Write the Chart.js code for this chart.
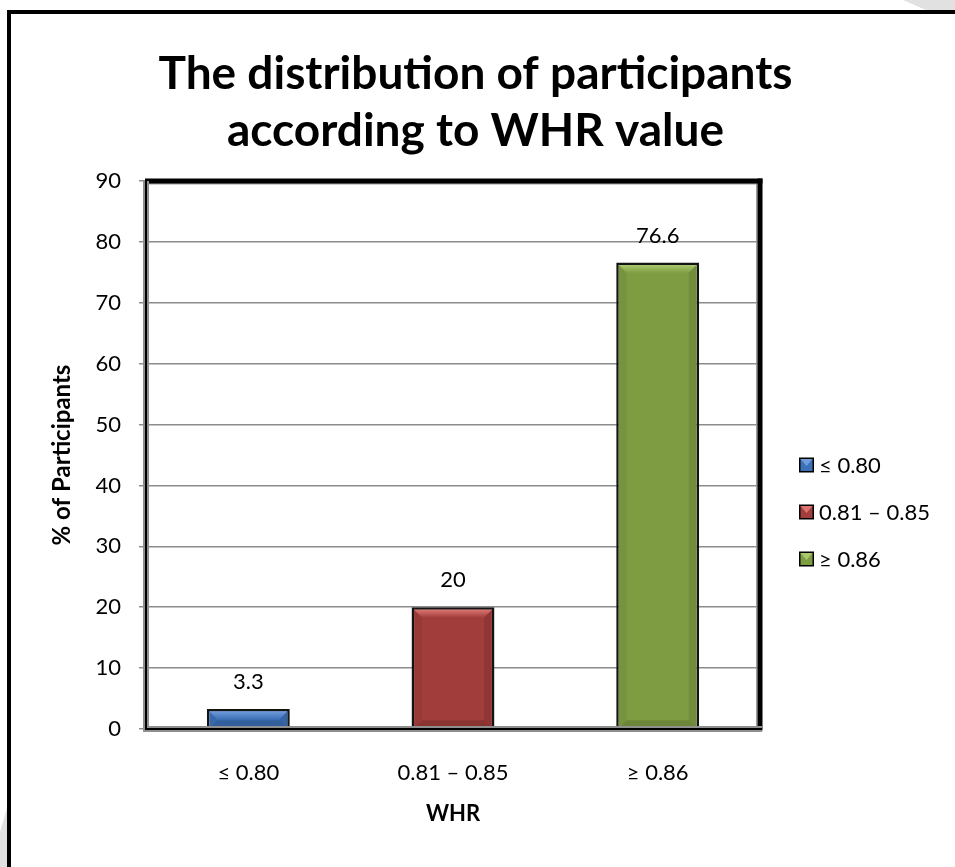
<!DOCTYPE html>
<html>
<head>
<meta charset="utf-8">
<script src="https://cdn.jsdelivr.net/npm/chart.js@4"></script>
<style>
  html, body { margin: 0; padding: 0; background: #ffffff; }
  #wrap { width: 955px; height: 867px; }
</style>
</head>
<body>
<div id="wrap"><canvas id="c" width="955" height="867"></canvas></div>
<script>
// WHR groups and share of participants (%)
const categories = ['≤ 0.80', '0.81 – 0.85', '≥ 0.86'];
const percentages = [3.3, 20, 76.6];
const yTickValues = [0, 10, 20, 30, 40, 50, 60, 70, 80, 90];
const titleLines = ['The distribution of participants', 'according to WHR value'];
const yAxisTitle = '% of Participants';
const xAxisTitle = 'WHR';

// Fill colours per group, with a lighter tone for the bevel
const barColors = ['#3C70B7', '#A13D3B', '#7E9D43'];
const barLight = ['#6E9CDC', '#DA7572', '#A9C86E'];

const FONT = 'Lato, "Open Sans", sans-serif';

function poly(ctx, pts, fill) {
  ctx.beginPath();
  ctx.moveTo(pts[0], pts[1]);
  for (let i = 2; i < pts.length; i += 2) ctx.lineTo(pts[i], pts[i + 1]);
  ctx.closePath();
  ctx.fillStyle = fill;
  ctx.fill();
}

// Page frame, corner shading and the two-line heading, centred on the page
const pageFrame = {
  id: 'pageFrame',
  beforeDraw(chart) {
    const ctx = chart.ctx;
    const W = chart.width, H = chart.height;
    ctx.save();
    ctx.fillStyle = '#ffffff';
    ctx.fillRect(0, 0, W, H);
    poly(ctx, [903, 0, W, 0, W, 10, 926, 10], '#e1e1e1');
    poly(ctx, [7, 808, 7, H, 0, H, 0, 832], '#e1e1e1');
    ctx.fillStyle = '#000000';
    ctx.fillRect(7, 10, 4, H - 10);
    ctx.fillRect(7, 10, W - 7, 4);
    ctx.font = 'bold 46px ' + FONT;
    ctx.textAlign = 'center';
    ctx.textBaseline = 'middle';
    titleLines.forEach((line, i) => ctx.fillText(line, W / 2 - 2, 74 + i * 57));
    ctx.restore();
  }
};

// Bevelled faces on each bar
const bevel = {
  id: 'bevel',
  afterDatasetsDraw(chart) {
    const ctx = chart.ctx;
    const meta = chart.getDatasetMeta(0);
    ctx.save();
    meta.data.forEach((bar, i) => {
      const p = bar.getProps(['x', 'y', 'base', 'width'], true);
      const bw = 2.5;
      const l = p.x - p.width / 2 + bw, r = p.x + p.width / 2 - bw;
      const t = p.y + bw, b = p.base;
      const d = Math.min(8, (b - t) / 2, (r - l) / 2);
      const g = ctx.createLinearGradient(0, t, 0, t + d);
      g.addColorStop(0, barLight[i]);
      g.addColorStop(1, barColors[i]);
      poly(ctx, [l, t, r, t, r - d, t + d, l + d, t + d], g);
      poly(ctx, [l, b, r, b, r - d, b - d, l + d, b - d], 'rgba(0,0,0,0.14)');
      poly(ctx, [l, t, l + d, t + d, l + d, b - d, l, b], 'rgba(0,0,0,0.06)');
      poly(ctx, [r, t, r - d, t + d, r - d, b - d, r, b], 'rgba(0,0,0,0.10)');
    });
    ctx.restore();
  }
};

// Plot area border: heavy top/right edge, double-toned axes
const plotFrame = {
  id: 'plotFrame',
  afterDatasetsDraw(chart) {
    const ctx = chart.ctx;
    const { left, top, right, bottom } = chart.chartArea;
    ctx.save();
    ctx.fillStyle = '#9a9a9a';
    ctx.fillRect(left + 2, top + 2, right - left - 2, 1.5);
    ctx.fillRect(right - 4, top + 2, 1.5, bottom - top - 2);
    ctx.fillStyle = '#000000';
    ctx.fillRect(left - 1, top - 2.5, right - left + 3.5, 5);
    ctx.fillRect(right - 2.5, top - 2.5, 5, bottom - top + 4);
    ctx.fillStyle = '#8f8f8f';
    ctx.fillRect(left - 3, top, 6, bottom - top + 3);
    ctx.fillRect(left - 3, bottom - 3, right - left + 5, 6);
    ctx.fillStyle = '#000000';
    ctx.fillRect(left - 1, top, 2, bottom - top + 1);
    ctx.fillRect(left - 1, bottom - 1, right - left + 3, 2);
    ctx.restore();
  }
};

// Value labels above the bars
const valueLabels = {
  id: 'valueLabels',
  afterDatasetsDraw(chart) {
    const ctx = chart.ctx;
    const meta = chart.getDatasetMeta(0);
    ctx.save();
    ctx.font = '22px ' + FONT;
    ctx.fillStyle = '#000000';
    ctx.textAlign = 'center';
    ctx.textBaseline = 'middle';
    meta.data.forEach((bar, i) => {
      const p = bar.getProps(['x', 'y'], true);
      ctx.fillText(String(percentages[i]), p.x, p.y - 27);
    });
    ctx.restore();
  }
};

// Legend at the right of the plot area
const sideLegend = {
  id: 'sideLegend',
  afterDraw(chart) {
    const ctx = chart.ctx;
    const { right, top, bottom } = chart.chartArea;
    const x0 = right + 39;
    const yMid = (top + bottom) / 2 + 57;
    const step = 47;
    ctx.save();
    ctx.font = '22px ' + FONT;
    ctx.textBaseline = 'middle';
    ctx.textAlign = 'left';
    categories.forEach((name, i) => {
      const cy = yMid + (i - 1) * step;
      const s = 15;
      const bx = x0, by = cy - s / 2;
      ctx.fillStyle = '#000000';
      ctx.fillRect(bx, by, s, s);
      ctx.fillStyle = barColors[i];
      ctx.fillRect(bx + 1.5, by + 1.5, s - 3, s - 3);
      poly(ctx, [bx + 1.5, by + 1.5, bx + s - 1.5, by + 1.5, bx + s / 2, by + s / 2 + 1], barLight[i]);
      ctx.fillStyle = '#000000';
      ctx.fillText(name, bx + s + 5, cy + 1);
    });
    ctx.restore();
  }
};

new Chart(document.getElementById('c'), {
  type: 'bar',
  data: {
    labels: categories,
    datasets: [{
      data: percentages,
      backgroundColor: barColors,
      borderColor: '#141414',
      borderWidth: 2.5,
      categoryPercentage: 1,
      barPercentage: 0.405
    }]
  },
  options: {
    responsive: false,
    animation: false,
    events: [],
    layout: { padding: { left: 0, right: 195, top: 181, bottom: 0 } },
    plugins: {
      legend: { display: false },
      tooltip: { enabled: false },
      title: { display: false }
    },
    scales: {
      x: {
        grid: { display: false },
        border: { display: false },
        ticks: { color: '#000000', font: { family: FONT, size: 22 }, padding: 23 },
        title: {
          display: true,
          text: xAxisTitle,
          color: '#000000',
          font: { family: FONT, size: 22, weight: 'bold', lineHeight: 1.2 },
          padding: { top: 0, bottom: 40 }
        },
        afterFit(scale) { scale.height = 867 - 729; }
      },
      y: {
        min: 0,
        max: 90,
        afterBuildTicks(scale) { scale.ticks = yTickValues.map(v => ({ value: v })); },
        grid: { color: '#8c8c8c', lineWidth: 1.5, tickLength: 7, tickColor: '#8c8c8c' },
        border: { display: false },
        ticks: { color: '#000000', font: { family: FONT, size: 22 }, padding: 18 },
        title: {
          display: true,
          text: yAxisTitle,
          color: '#000000',
          font: { family: FONT, size: 24, weight: 'bold', lineHeight: 1.2 },
          padding: { top: 48, bottom: 0 }
        },
        afterFit(scale) { scale.width = 146; }
      }
    }
  },
  plugins: [pageFrame, bevel, plotFrame, valueLabels, sideLegend]
});
</script>
</body>
</html>
